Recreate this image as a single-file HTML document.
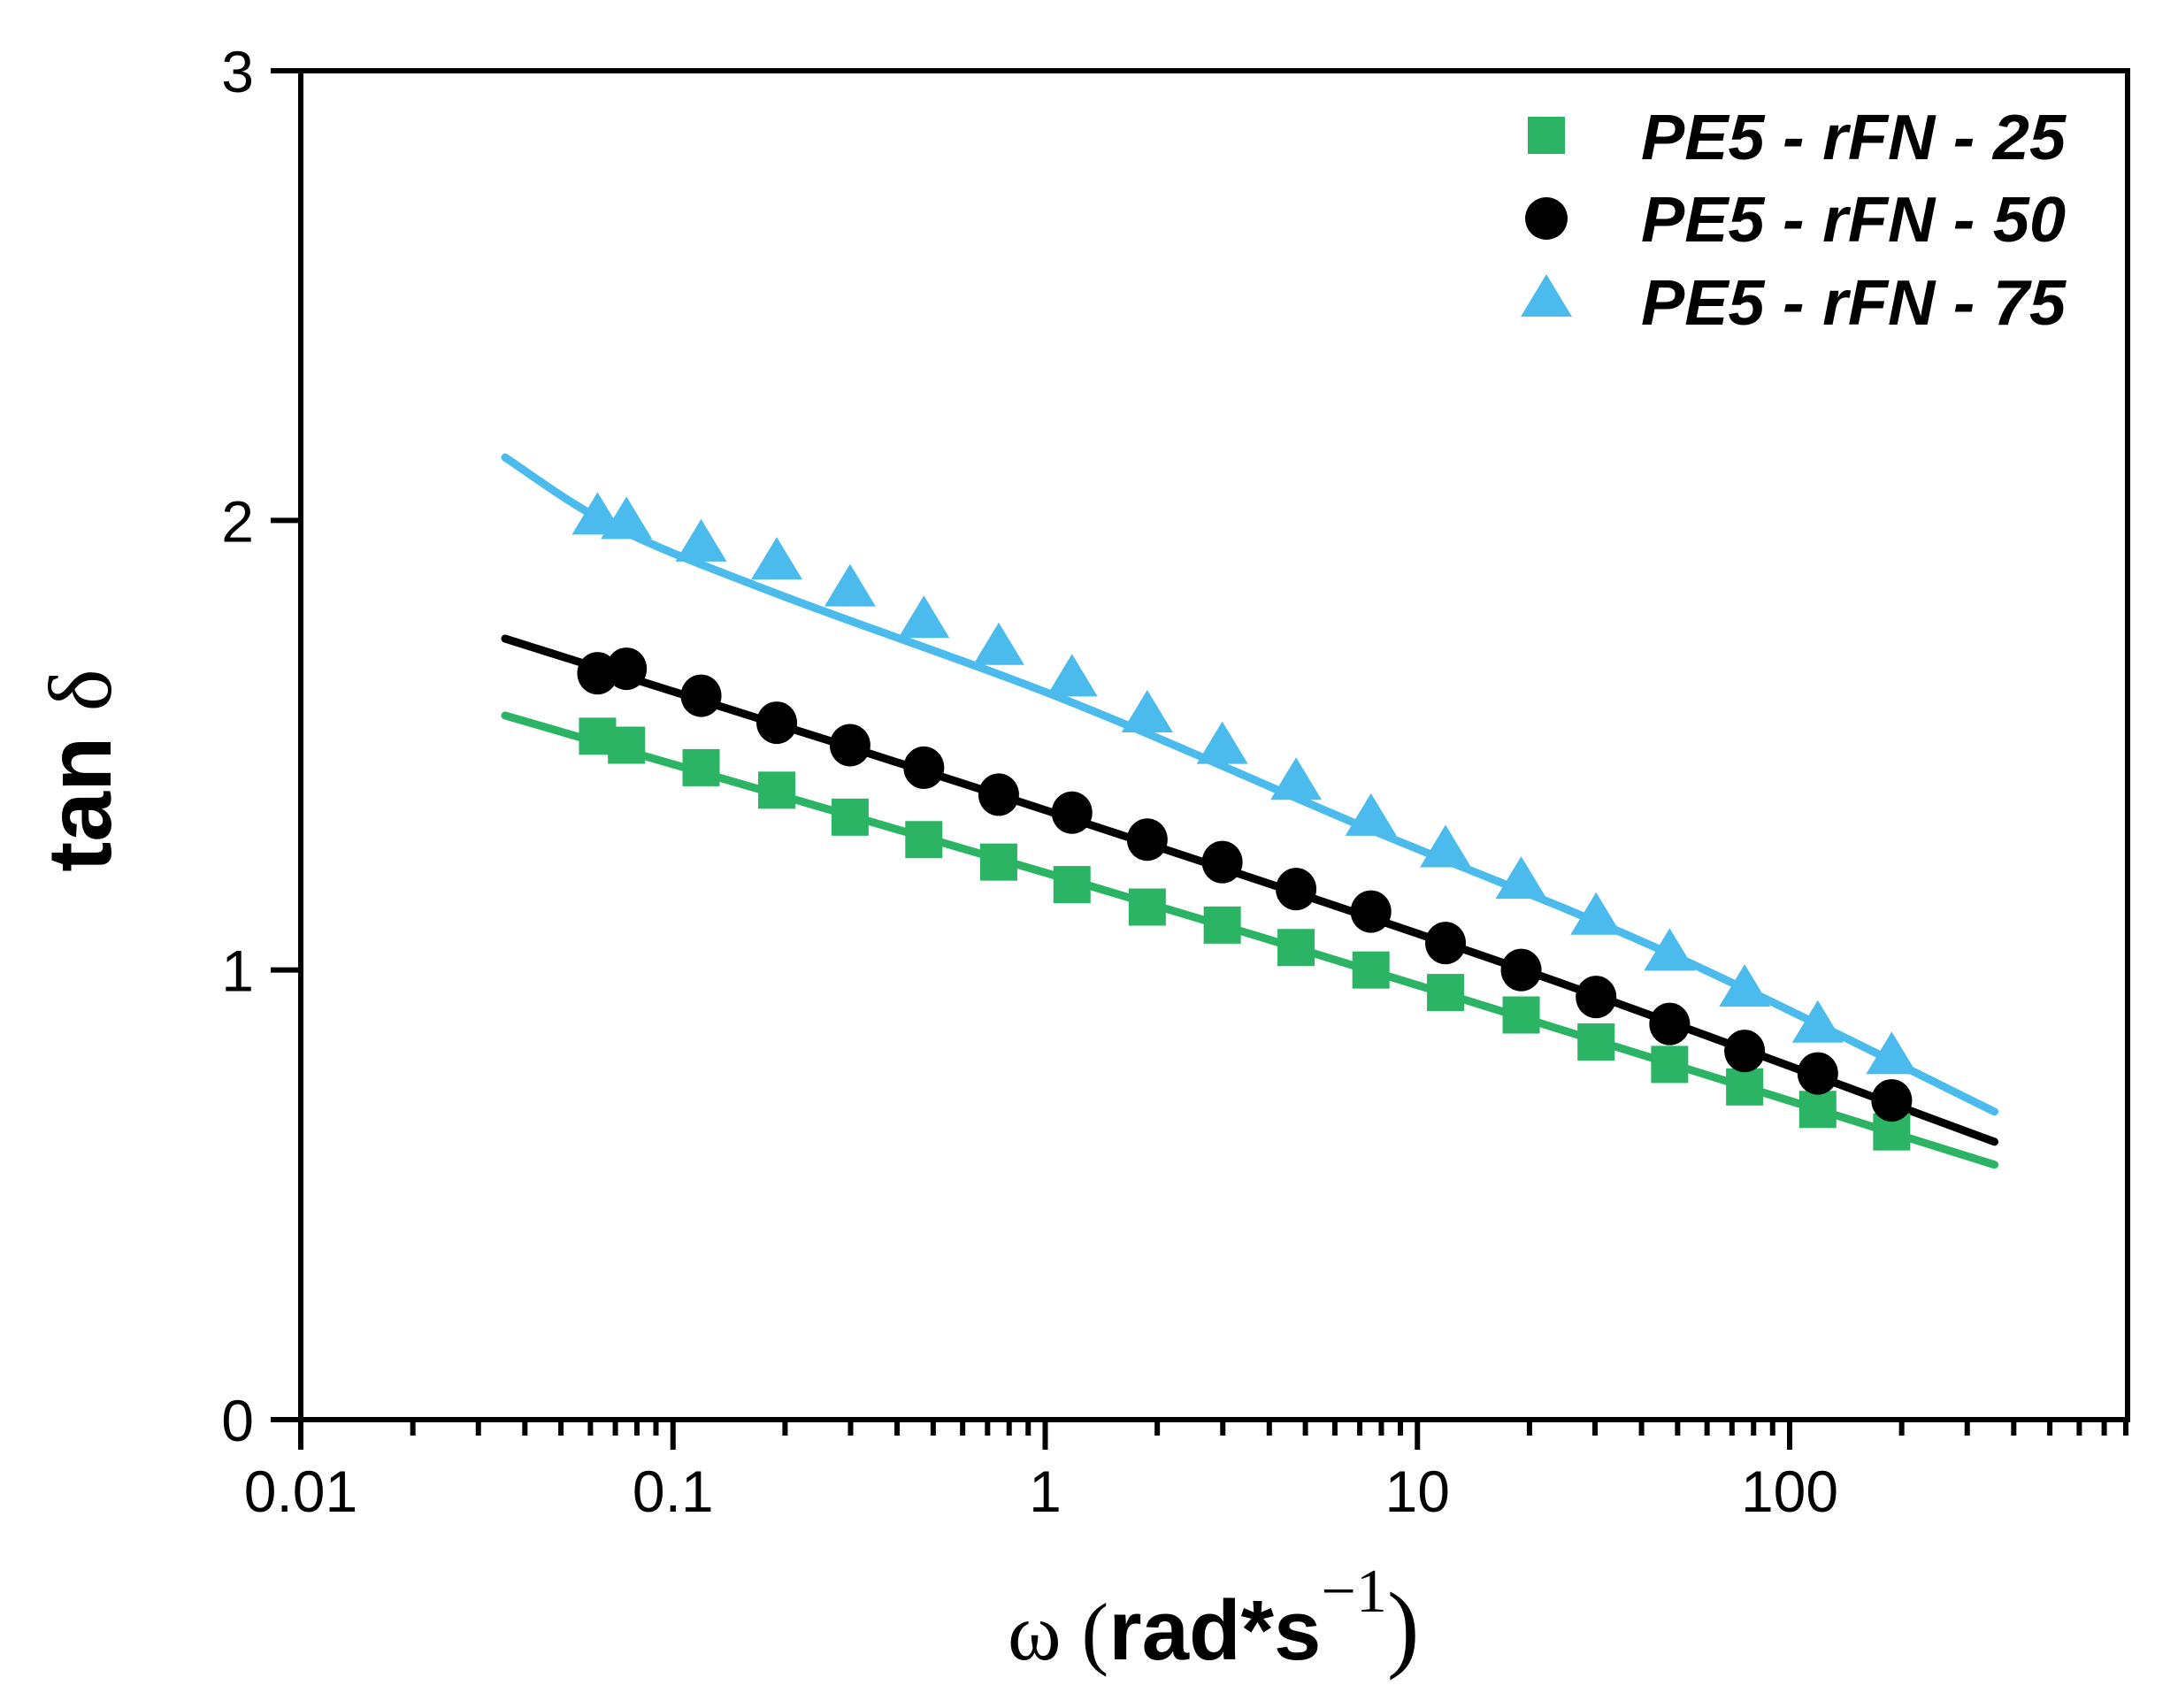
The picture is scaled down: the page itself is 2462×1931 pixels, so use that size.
<!DOCTYPE html>
<html><head><meta charset="utf-8"><style>
html,body{margin:0;padding:0;background:#fff;}
svg{display:block;}
text{font-family:"Liberation Sans",sans-serif;}
</style></head><body>
<svg id="chart" width="2462" height="1931" viewBox="0 0 2462 1931" xmlns="http://www.w3.org/2000/svg">
<rect width="2462" height="1931" fill="#fff"/>
<g id="marks"></g>
<g id="axes"></g>
<g>
  <rect x="1727" y="132" width="42" height="42" fill="#2bb463"/>
  <ellipse cx="1748" cy="247" rx="24" ry="24" fill="#000"/>
  <polygon points="1719,358 1748,310 1777,358" fill="#4bbbed"/>
  <text x="1855" y="180" font-size="72" font-weight="bold" font-style="italic" textLength="480" lengthAdjust="spacingAndGlyphs">PE5 - rFN - 25</text>
  <text x="1855" y="273" font-size="72" font-weight="bold" font-style="italic" textLength="480" lengthAdjust="spacingAndGlyphs">PE5 - rFN - 50</text>
  <text x="1855" y="367" font-size="72" font-weight="bold" font-style="italic" textLength="480" lengthAdjust="spacingAndGlyphs">PE5 - rFN - 75</text>
</g>
<text x="1139" y="1876" font-size="96"><tspan font-family="Liberation Serif, serif" font-size="92">ω (</tspan><tspan font-weight="bold">rad*s</tspan><tspan font-family="Liberation Serif, serif" font-size="70" dy="-54">−1</tspan><tspan font-family="Liberation Serif, serif" font-size="110" dy="54">)</tspan></text>
<text transform="translate(125,871) rotate(-90)" text-anchor="middle" font-size="102" font-weight="bold">tan <tspan font-weight="normal" font-family="Liberation Serif, serif">δ</tspan></text>
</svg>
<script>
const omega = [0.0627,0.075,0.119,0.19,0.299,0.472,0.75,1.18,1.88,2.99,4.72,7.5,11.9,19.0,30.2,47.6,75.7,119,188];
const tan25 = [1.52,1.50,1.45,1.40,1.34,1.29,1.24,1.19,1.14,1.10,1.05,1.00,0.95,0.90,0.84,0.79,0.74,0.69,0.64];
const tan50 = [1.66,1.67,1.61,1.55,1.50,1.45,1.39,1.35,1.29,1.24,1.18,1.13,1.06,1.00,0.94,0.88,0.82,0.77,0.71];
const tan75 = [2.00,1.99,1.94,1.90,1.84,1.77,1.71,1.64,1.56,1.49,1.41,1.33,1.26,1.19,1.11,1.03,0.95,0.87,0.80];
const fitOmega75 = [0.0354,0.07,0.2,1.14,7.1,46.5,355];
const fit75 = [2.14,1.985,1.83,1.60,1.32,1.04,0.685];
const fitOmega50 = [0.0354,0.746,19.3,355];
const fit50 = [1.737,1.39,1.00,0.618];
const fitOmega25 = [0.0354,1.17,11.8,355];
const fit25 = [1.566,1.20,0.948,0.567];
const xTickLabels = ["0.01","0.1","1","10","100"];
const yTickLabels = ["0","1","2","3"];

const NS="http://www.w3.org/2000/svg";
const X0=340,X1=2405,Y0=1605,Y1=80,DEC=420.75;
function xs(w){return X0+(Math.log10(w)+2)*DEC;}
function ys(v){return Y0-(v/3)*(Y0-Y1);}
function mk(tag,attrs,parent){const e=document.createElementNS(NS,tag);for(const k in attrs)e.setAttribute(k,attrs[k]);parent.appendChild(e);return e;}
const marks=document.getElementById('marks'),axes=document.getElementById('axes');

function smoothPath(ws,vs){
  const p=ws.map((w,i)=>[xs(w),ys(vs[i])]);
  let d='M'+p[0][0]+','+p[0][1];
  for(let i=0;i<p.length-1;i++){
    const p0=p[Math.max(0,i-1)],p1=p[i],p2=p[i+1],p3=p[Math.min(p.length-1,i+2)];
    const c1=[p1[0]+(p2[0]-p0[0])/6,p1[1]+(p2[1]-p0[1])/6];
    const c2=[p2[0]-(p3[0]-p1[0])/6,p2[1]-(p3[1]-p1[1])/6];
    d+=' C'+c1[0]+','+c1[1]+' '+c2[0]+','+c2[1]+' '+p2[0]+','+p2[1];
  }
  return d;
}
function fitLine(ws,vs,color,name){
  const p=mk('path',{d:smoothPath(ws,vs),fill:'none',stroke:color,'stroke-width':9,'stroke-linecap':'round','stroke-linejoin':'round'},marks);
  
  
}
fitLine(fitOmega25,fit25,'#2bb463','fit-line-25');
fitLine(fitOmega50,fit50,'#000','fit-line-50');
fitLine(fitOmega75,fit75,'#4bbbed','fit-line-75');

omega.forEach((w,i)=>{
  const x=xs(w);
  let y=ys(tan75[i]);
  const t=mk('polygon',{points:(x-29)+','+(y+16)+' '+x+','+(y-32)+' '+(x+29)+','+(y+16),fill:'#4bbbed'},marks);
  
  
  y=ys(tan25[i]);
  const s=mk('rect',{x:x-21,y:y-21,width:42,height:42,fill:'#2bb463'},marks);
  
  
  y=ys(tan50[i]);
  const c=mk('ellipse',{cx:x,cy:y,rx:23,ry:24,fill:'#000'},marks);
  
  
});

const frame=mk('rect',{x:X0,y:Y1,width:X1-X0,height:Y0-Y1,fill:'none',stroke:'#000','stroke-width':6},axes);


xTickLabels.forEach((lab,i)=>{
  const x=X0+i*DEC;
  const t=mk('line',{x1:x,y1:Y0,x2:x,y2:Y0+34,stroke:'#000','stroke-width':6},axes);
  
  
  const tx=mk('text',{x:x,y:1709,'text-anchor':'middle','font-size':66},axes);
  tx.textContent=lab;
  
  
});
for(let d=-2;d<=2;d++){for(let m=2;m<=9;m++){
  const x=X0+(d+2+Math.log10(m))*DEC; if(x>X1+1)continue;
  const t=mk('line',{x1:x,y1:Y0,x2:x,y2:Y0+18,stroke:'#000','stroke-width':6},axes);
  
  
}}
yTickLabels.forEach(lab=>{
  const y=ys(+lab);
  const t=mk('line',{x1:X0-34,y1:y,x2:X0,y2:y,stroke:'#000','stroke-width':6},axes);
  
  
  const tx=mk('text',{x:287,y:y+24,'text-anchor':'end','font-size':66},axes);
  tx.textContent=lab;
  
  
});
</script>
</body></html>
